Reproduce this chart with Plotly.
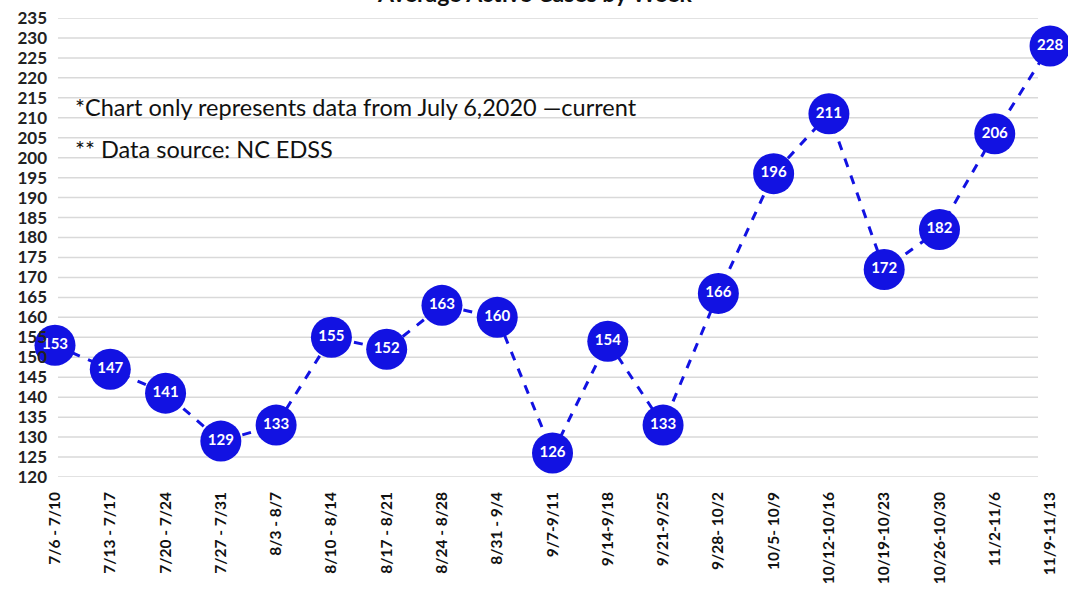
import plotly.graph_objects as go

weeks = ["7/6 - 7/10", "7/13 - 7/17", "7/20 - 7/24", "7/27 - 7/31", "8/3 - 8/7",
         "8/10 - 8/14", "8/17 - 8/21", "8/24 - 8/28", "8/31 - 9/4", "9/7-9/11",
         "9/14-9/18", "9/21-9/25", "9/28- 10/2", "10/5- 10/9", "10/12-10/16",
         "10/19-10/23", "10/26-10/30", "11/2-11/6", "11/9-11/13"]
cases = [153, 147, 141, 129, 133, 155, 152, 163, 160, 126,
         154, 133, 166, 196, 211, 172, 182, 206, 228]
y_ticks = list(range(120, 236, 5))

BLUE = "#1212e2"
FONT = "Lato"

W, H = 1068, 596
L, R, T, B = 50, 8, 18, 119
plot_w = W - L - R

fig = go.Figure()
fig.add_trace(go.Scatter(
    x=list(range(len(weeks))), y=cases,
    mode="lines+markers+text",
    line=dict(color=BLUE, width=3, dash="dash"),
    marker=dict(size=41, color=BLUE, line=dict(width=0)),
    text=[str(v) for v in cases],
    textposition="middle center",
    textfont=dict(family=FONT, size=15, color="white", weight="bold"),
    cliponaxis=False,
    hoverinfo="skip",
))

# gridlines drawn as shapes so they stop short of the last marker, like the reference
grid_x0 = (58 - L) / plot_w
grid_x1 = (1038 - L) / plot_w
shapes = [dict(type="line", xref="paper", yref="y", x0=grid_x0, x1=grid_x1, y0=v, y1=v,
               line=dict(color="#d9d9d9", width=1.5), layer="below") for v in y_ticks]

fig.update_layout(
    width=W, height=H,
    margin=dict(l=L, r=R, t=T, b=B, autoexpand=False),
    paper_bgcolor="white", plot_bgcolor="white",
    showlegend=False,
    font=dict(family=FONT, color="#222222"),
    xaxis=dict(
        range=[(L - 55) / 55.28, (W - R - 55) / 55.28],
        tickmode="array", tickvals=list(range(len(weeks))), ticktext=weeks,
        tickangle=-90, showgrid=False, zeroline=False, showline=False,
        tickfont=dict(family=FONT, size=15.5, color="#111111", weight="bold"),
        ticks="", ticklen=0, automargin=False, ticklabelstandoff=11,
    ),
    yaxis=dict(
        range=[120, 235], tickmode="array", tickvals=y_ticks,
        showgrid=False, zeroline=False, showline=False, ticks="",
        tickfont=dict(family=FONT, size=17, color="#222222", weight="bold"),
        automargin=False, ticklabelstandoff=2,
    ),
    shapes=shapes,
    annotations=[
        dict(text="<b>Average Active Cases by Week</b>", xref="paper", yref="paper",
             x=(534 - L) / plot_w, y=1.0, yshift=25, xanchor="center", yanchor="middle",
             showarrow=False, font=dict(family=FONT, size=23, color="#111111")),
        dict(text="*Chart only represents data from July 6,2020 \u2014current",
             xref="paper", yref="y", x=(73 - L) / plot_w, y=212.7, xanchor="left", yanchor="middle",
             showarrow=False, font=dict(family=FONT, size=23.5, color="#111111")),
        dict(text="** Data source: NC EDSS",
             xref="paper", yref="y", x=(73 - L) / plot_w, y=202.3, xanchor="left", yanchor="middle",
             showarrow=False, font=dict(family=FONT, size=23.5, color="#111111")),
    ],
)

fig.write_html("out.html", config={"displayModeBar": False},
               post_script="document.body.style.margin='0';")
